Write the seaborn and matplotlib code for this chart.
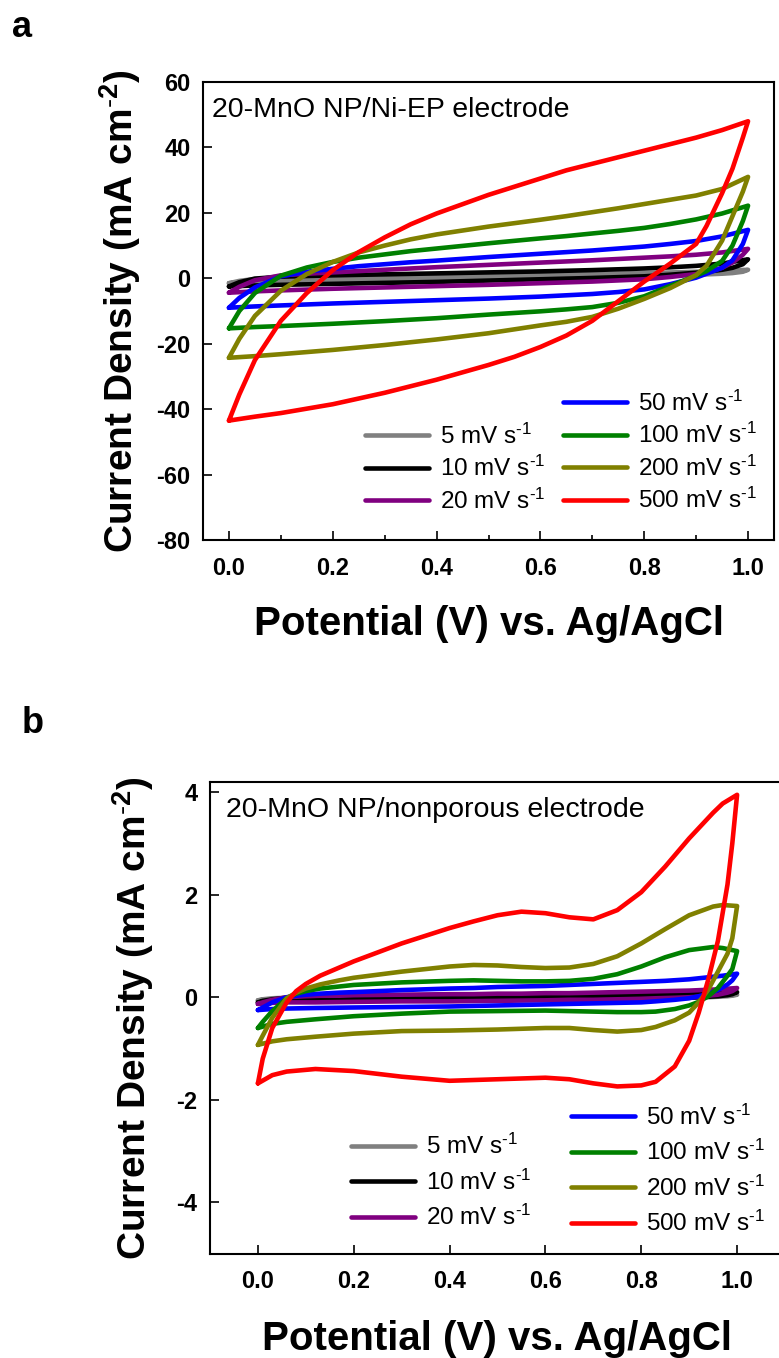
import numpy as np
import pandas as pd
import matplotlib
matplotlib.use("Agg")
import matplotlib.pyplot as plt
from matplotlib.lines import Line2D
from matplotlib.ticker import MultipleLocator
import seaborn as sns

sns.set_style("ticks")
plt.rcParams["font.family"] = ["Liberation Sans", "DejaVu Sans"]
plt.rcParams["mathtext.fontset"] = "custom"
plt.rcParams["mathtext.rm"] = "Liberation Sans"
plt.rcParams["mathtext.it"] = "Liberation Sans:italic"
plt.rcParams["mathtext.bf"] = "Liberation Sans:bold"
plt.rcParams["axes.unicode_minus"] = False
for k in ["text.color", "axes.labelcolor", "xtick.color", "ytick.color", "axes.edgecolor"]:
    plt.rcParams[k] = "black"

# scan rates (mV/s) and colours
rates = [5, 10, 20, 50, 100, 200, 500]
colors = ["#808080", "#000000", "#800080", "#0000ff", "#008000", "#808000", "#ff0000"]
labels = [f"{r} mV s" + r"$^{\text{-}1}$" for r in rates]

# ---- panel a: 20-MnO NP/Ni-EP electrode (mA cm-2) ----
a_pot_fwd = [0, 0.02, 0.05, 0.1, 0.15, 0.2, 0.25, 0.3, 0.35, 0.4, 0.5, 0.6, 0.65, 0.7,
             0.75, 0.8, 0.85, 0.9, 0.95, 1.0]
a_pot_rev = [1.0, 0.99, 0.97, 0.95, 0.92, 0.9, 0.85, 0.8, 0.75, 0.7, 0.65, 0.6, 0.55,
             0.5, 0.4, 0.3, 0.2, 0.1, 0.05, 0.0]

a_fwd = {
    5: [-1.5, -0.8, -0.2, 0.3, 0.45, 0.55, 0.62, 0.7, 0.78, 0.85, 1.0, 1.15, 1.25, 1.35,
        1.47, 1.6, 1.78, 2.0, 2.3, 2.6],
    10: [-2.5, -1.2, -0.1, 0.5, 0.7, 0.9, 1.05, 1.2, 1.35, 1.5, 1.8, 2.1, 2.3, 2.5,
         2.75, 3.0, 3.35, 3.8, 4.5, 5.8],
    20: [-4.4, -2.6, -0.6, 0.9, 1.4, 1.8, 2.2, 2.6, 3.0, 3.4, 4.1, 4.8, 5.15, 5.5,
         5.9, 6.3, 6.7, 7.2, 7.9, 9.0],
    50: [-9.0, -6.0, -2.8, 0.6, 2.0, 2.9, 3.7, 4.3, 4.9, 5.4, 6.5, 7.5, 8.0, 8.5,
         9.1, 9.7, 10.5, 11.4, 12.8, 14.8],
    100: [-15.3, -10.0, -4.5, 0.8, 3.3, 5.0, 6.3, 7.3, 8.3, 9.1, 10.7, 12.2, 12.9, 13.7,
          14.5, 15.4, 16.6, 18.0, 19.8, 22.2],
    200: [-24.3, -18.5, -11.5, -3.8, 1.3, 5.0, 7.9, 10.0, 11.9, 13.4, 15.8, 17.9, 19.0, 20.2,
          21.4, 22.7, 24.0, 25.3, 27.3, 31.0],
    500: [-43.5, -35.5, -25.0, -13.0, -4.5, 2.5, 8.0, 12.5, 16.5, 19.8, 25.5, 30.5, 33.0, 35.0,
          37.0, 39.0, 41.0, 43.0, 45.3, 48.0],
}
a_rev = {
    5: [2.6, 2.0, 1.6, 1.4, 1.2, 1.1, 0.9, 0.7, 0.55, 0.4, 0.27, 0.15, 0.05, -0.05,
        -0.25, -0.45, -0.65, -0.9, -1.1, -1.5],
    10: [5.8, 4.3, 3.2, 2.6, 2.0, 1.7, 1.1, 0.6, 0.35, 0.1, -0.1, -0.3, -0.5, -0.7,
         -1.1, -1.4, -1.7, -2.0, -2.2, -2.5],
    20: [9.0, 7.2, 4.8, 3.2, 1.9, 1.3, 0.4, -0.3, -0.65, -1.0, -1.25, -1.5, -1.75, -2.0,
         -2.4, -2.8, -3.2, -3.7, -4.0, -4.4],
    50: [14.8, 10.5, 5.5, 3.2, 1.4, 0.2, -1.8, -3.4, -4.2, -4.8, -5.2, -5.6, -5.9, -6.2,
         -6.7, -7.2, -7.7, -8.3, -8.6, -9.0],
    100: [22.2, 17.5, 10.0, 5.3, 2.2, 0.8, -2.3, -5.5, -7.5, -8.8, -9.5, -10.1, -10.6, -11.1,
          -12.2, -13.1, -13.9, -14.6, -14.9, -15.3],
    200: [31.0, 26.5, 19.0, 11.5, 3.8, 1.0, -3.0, -6.3, -9.3, -11.8, -13.3, -14.4, -15.6, -16.8,
          -18.7, -20.4, -21.9, -23.2, -23.8, -24.3],
    500: [48.0, 43.0, 33.5, 26.0, 16.0, 10.5, 4.5, -1.0, -7.0, -13.0, -17.5, -21.0, -24.0, -26.5,
          -31.0, -35.0, -38.5, -41.2, -42.3, -43.5],
}

# ---- panel b: 20-MnO NP/nonporous electrode (mA cm-2) ----
b_pot_fwd = [0, 0.01, 0.03, 0.06, 0.08, 0.1, 0.13, 0.17, 0.2, 0.3, 0.4, 0.45, 0.5, 0.55,
             0.6, 0.65, 0.7, 0.75, 0.8, 0.85, 0.9, 0.95, 0.97, 1.0]
b_pot_rev = [1.0, 0.99, 0.98, 0.96, 0.94, 0.92, 0.9, 0.87, 0.83, 0.8, 0.75, 0.7, 0.65,
             0.6, 0.5, 0.4, 0.3, 0.2, 0.12, 0.06, 0.03, 0.0]

b_fwd = {
    5: [-0.06, -0.04, -0.02, -0.01, 0.0, 0.0, 0.0, 0.0, 0.01, 0.01, 0.01, 0.01, 0.01, 0.01,
        0.02, 0.02, 0.02, 0.02, 0.02, 0.03, 0.03, 0.04, 0.04, 0.05],
    10: [-0.1, -0.07, -0.04, -0.01, 0.0, 0.0, 0.01, 0.01, 0.01, 0.02, 0.02, 0.02, 0.03, 0.03,
         0.03, 0.03, 0.04, 0.04, 0.05, 0.05, 0.06, 0.07, 0.08, 0.1],
    20: [-0.13, -0.1, -0.05, 0.0, 0.01, 0.02, 0.03, 0.03, 0.04, 0.05, 0.06, 0.06, 0.07, 0.07,
         0.08, 0.08, 0.09, 0.1, 0.11, 0.12, 0.13, 0.15, 0.16, 0.18],
    50: [-0.25, -0.2, -0.1, 0.0, 0.03, 0.05, 0.07, 0.09, 0.1, 0.14, 0.17, 0.18, 0.2, 0.21,
         0.22, 0.24, 0.26, 0.28, 0.3, 0.32, 0.35, 0.4, 0.42, 0.46],
    100: [-0.6, -0.48, -0.27, -0.02, 0.07, 0.12, 0.17, 0.21, 0.24, 0.29, 0.32, 0.33, 0.32, 0.31,
          0.31, 0.32, 0.36, 0.45, 0.6, 0.78, 0.92, 0.98, 0.96, 0.9],
    200: [-0.93, -0.75, -0.4, -0.02, 0.09, 0.17, 0.25, 0.33, 0.38, 0.5, 0.6, 0.63, 0.62, 0.59,
          0.57, 0.58, 0.65, 0.8, 1.05, 1.33, 1.6, 1.77, 1.8, 1.78],
    500: [-1.68, -1.2, -0.6, -0.1, 0.12, 0.26, 0.42, 0.58, 0.7, 1.05, 1.35, 1.48, 1.6, 1.67,
          1.64, 1.56, 1.52, 1.7, 2.05, 2.55, 3.1, 3.6, 3.78, 3.95],
}
b_rev = {
    5: [0.05, 0.03, 0.02, 0.01, 0.0, 0.0, -0.01, -0.01, -0.01, -0.01, -0.02, -0.02, -0.02,
        -0.02, -0.02, -0.02, -0.03, -0.03, -0.03, -0.04, -0.04, -0.06],
    10: [0.1, 0.06, 0.04, 0.02, 0.01, 0.0, -0.01, -0.02, -0.02, -0.03, -0.03, -0.03, -0.04,
         -0.04, -0.04, -0.05, -0.05, -0.06, -0.06, -0.07, -0.08, -0.1],
    20: [0.18, 0.12, 0.09, 0.05, 0.03, 0.01, 0.0, -0.01, -0.02, -0.03, -0.04, -0.05, -0.05,
         -0.06, -0.07, -0.08, -0.08, -0.09, -0.1, -0.1, -0.11, -0.13],
    50: [0.46, 0.33, 0.25, 0.14, 0.07, 0.02, -0.02, -0.05, -0.08, -0.1, -0.11, -0.12, -0.13,
         -0.14, -0.16, -0.18, -0.19, -0.2, -0.21, -0.22, -0.23, -0.25],
    100: [0.9, 0.55, 0.42, 0.18, 0.02, -0.09, -0.16, -0.23, -0.28, -0.29, -0.29, -0.28, -0.27,
          -0.26, -0.27, -0.28, -0.32, -0.37, -0.43, -0.48, -0.52, -0.6],
    200: [1.78, 1.15, 0.85, 0.5, 0.15, -0.1, -0.3, -0.45, -0.58, -0.64, -0.67, -0.64, -0.6,
          -0.6, -0.63, -0.65, -0.66, -0.71, -0.77, -0.82, -0.86, -0.93],
    500: [3.95, 3.0, 2.2, 1.1, 0.35, -0.3, -0.85, -1.35, -1.65, -1.72, -1.74, -1.68, -1.6,
          -1.57, -1.6, -1.63, -1.55, -1.44, -1.4, -1.45, -1.52, -1.68],
}

W, H = 779, 1358
fig = plt.figure(figsize=(W / 100, H / 100), dpi=100)


def px_box(left, top, right, bottom):
    return [left / W, 1 - bottom / H, (right - left) / W, (bottom - top) / H]


ax_a = fig.add_axes(px_box(203, 82, 774, 540))
ax_b = fig.add_axes(px_box(210, 782, 785, 1253.5))


def draw_cv(ax, pot_fwd, pot_rev, fwd, rev):
    for r, c in zip(rates, colors):
        sns.lineplot(x=pot_fwd + pot_rev, y=fwd[r] + rev[r], sort=False, estimator=None,
                     color=c, lw=3.3, ax=ax, legend=False)


def style_axes(ax):
    for s in ax.spines.values():
        s.set_linewidth(1.5)
        s.set_color("black")
    ax.tick_params(which="major", direction="in", length=6.5, width=1.2, labelsize=17,
                   colors="black")
    ax.tick_params(which="minor", direction="in", length=3.5, width=1.2)
    ax.tick_params(axis="x", pad=12)
    ax.tick_params(axis="y", pad=9)
    for t in ax.get_xticklabels() + ax.get_yticklabels():
        t.set_fontweight("bold")
    ax.set_xlabel("Potential (V) vs. Ag/AgCl", fontsize=29, fontweight="bold")
    ax.set_ylabel(r"Current Density (mA cm$^{\text{-}\mathbf{2}}$)", fontsize=28,
                  fontweight="bold")
    ax.xaxis.label.set_va("top")
    ax.yaxis.label.set_va("center")


def add_legends(ax, left_px, right_px, spacing):
    h = [Line2D([], [], color=c, lw=3.3, solid_capstyle="round") for c in colors]
    kw = dict(loc="center left", bbox_transform=fig.transFigure, frameon=False, fontsize=17.5,
              handlelength=2.65, handletextpad=0.45, labelspacing=spacing, borderpad=0,
              borderaxespad=0)
    leg1 = ax.legend(h[:3], labels[:3], bbox_to_anchor=(left_px[0] / W, 1 - left_px[1] / H), **kw)
    ax.add_artist(leg1)
    ax.legend(h[3:], labels[3:], bbox_to_anchor=(right_px[0] / W, 1 - right_px[1] / H), **kw)


# panel a
draw_cv(ax_a, a_pot_fwd, a_pot_rev, a_fwd, a_rev)
ax_a.set_xlim(-0.05, 1.05)
ax_a.set_ylim(-80, 60)
ax_a.set_xticks([0.0, 0.2, 0.4, 0.6, 0.8, 1.0])
ax_a.xaxis.set_minor_locator(MultipleLocator(0.1))
ax_a.set_yticks([-80, -60, -40, -20, 0, 20, 40, 60])
style_axes(ax_a)
ax_a.xaxis.set_label_coords(0.5, -0.142)
ax_a.yaxis.set_label_coords(-0.145, 0.5)
ax_a.text(0.0158, 0.9236, "20-MnO NP/Ni-EP electrode", transform=ax_a.transAxes,
          fontsize=20.5, va="baseline", ha="left")
add_legends(ax_a, (365, 468.5), (563, 452), 0.3)

# panel b
draw_cv(ax_b, b_pot_fwd, b_pot_rev, b_fwd, b_rev)
ax_b.set_xlim(-0.1, 1.1)
ax_b.set_ylim(-5, 4.2)
ax_b.set_xticks([0.0, 0.2, 0.4, 0.6, 0.8, 1.0])
ax_b.set_yticks([-4, -2, 0, 2, 4])
style_axes(ax_b)
ax_b.xaxis.set_label_coords(0.5, -0.142)
ax_b.yaxis.set_label_coords(-0.134, 0.5)
ax_b.text(0.0278, 0.9264, "20-MnO NP/nonporous electrode", transform=ax_b.transAxes,
          fontsize=20.5, va="baseline", ha="left")
add_legends(ax_b, (351, 1182), (571, 1170.5), 0.42)

fig.text(12 / W, 1 - 37 / H, "a", fontsize=26, fontweight="bold", va="baseline")
fig.text(22 / W, 1 - 733 / H, "b", fontsize=26, fontweight="bold", va="baseline")

fig.savefig("out.png", dpi=100)
